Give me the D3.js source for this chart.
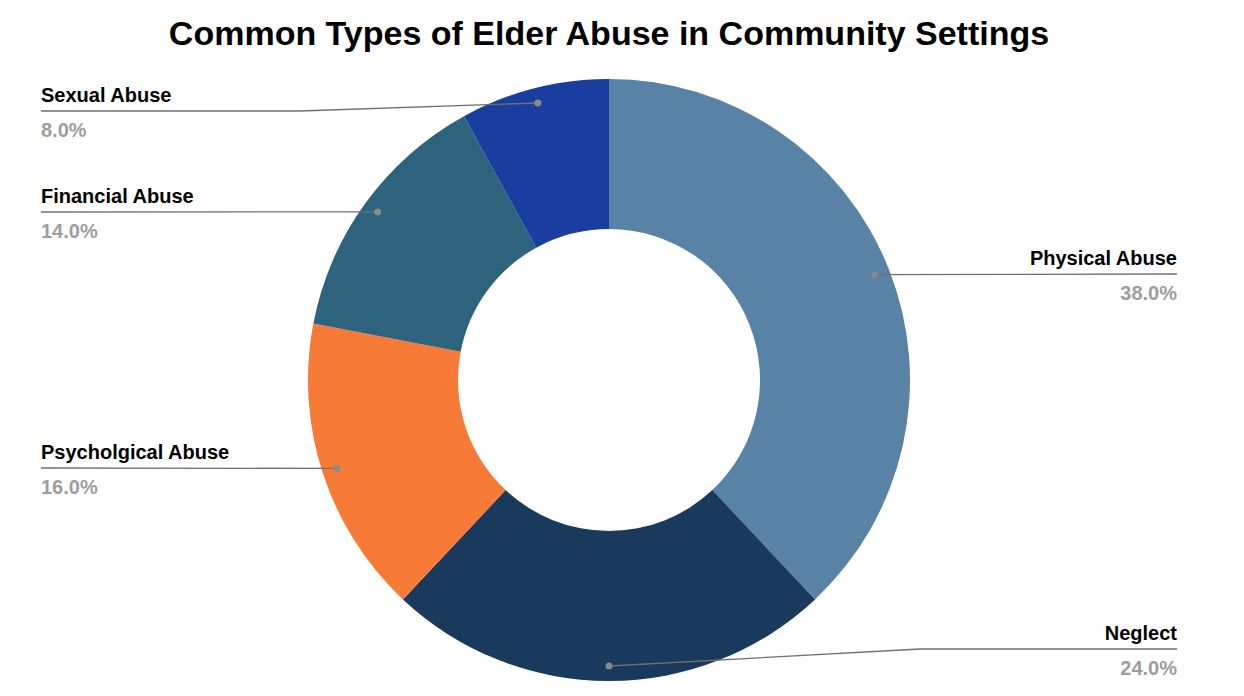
<!DOCTYPE html>
<html>
<head>
<meta charset="utf-8">
<script src="https://cdn.jsdelivr.net/npm/d3@7"></script>
<style>
  body { margin: 0; background: #fff; }
  text { font-family: "Liberation Sans", Arial, sans-serif; }
</style>
</head>
<body>
<svg id="drawing_region"></svg>
<script>
const categories = ['Physical Abuse', 'Neglect', 'Psycholgical Abuse', 'Financial Abuse', 'Sexual Abuse'];
const values = [38, 24, 16, 14, 8];
const colors = ['#5882a6', '#193a5c', '#f77a36', '#2e637d', '#1a3ea0'];
// label layout: side and y of the leader line
const labelSide = ['right', 'right', 'left', 'left', 'left'];
const labelLineY = [274, 649, 468, 212, 111];

const width = 1244, height = 696;
const cx = 609, cy = 380, outerR = 301, innerR = 151, dotR = 286;

const svg = d3.select('#drawing_region')
    .attr('width', width)
    .attr('height', height);

svg.append('text')
    .attr('x', 609).attr('y', 45)
    .attr('text-anchor', 'middle')
    .style('font-size', '34px')
    .style('font-weight', 'bold')
    .text('Common Types of Elder Abuse in Community Settings');

const data = categories.map((c, i) => ({label: c, value: values[i], color: colors[i], i: i}));
const total = d3.sum(values);

const pie = d3.pie().sort(null).value(d => d.value);
const arc = d3.arc().innerRadius(innerR).outerRadius(outerR);
const arcs = pie(data);

const chart = svg.append('g').attr('transform', `translate(${cx}, ${cy})`);
chart.selectAll('path').data(arcs)
    .join('path')
    .attr('d', arc)
    .attr('fill', d => d.data.color);

const labels = svg.append('g');
arcs.forEach(a => {
    const mid = (a.startAngle + a.endAngle) / 2;
    const dx = cx + Math.sin(mid) * dotR;
    const dy = cy - Math.cos(mid) * dotR;
    const ly = labelLineY[a.data.i];
    const right = labelSide[a.data.i] === 'right';
    const endX = right ? 1177 : 41;
    const elbowX = right ? Math.max(dx + 40, dx + Math.abs(ly - dy) * 18) : Math.min(dx - 40, 300);
    const pts = Math.abs(ly - dy) < 3
        ? [[dx, dy], [endX, ly]]
        : [[dx, dy], [Math.min(elbowX, 920), ly], [endX, ly]];
    if (right && pts.length === 3) pts[1][0] = 920;
    labels.append('path')
        .attr('d', d3.line()(pts))
        .attr('fill', 'none')
        .attr('stroke', '#707070')
        .attr('stroke-width', 1.3);
    labels.append('circle')
        .attr('cx', dx).attr('cy', dy).attr('r', 3.5)
        .attr('fill', '#8a8a8a');
    labels.append('text')
        .attr('x', endX).attr('y', ly - 9)
        .attr('text-anchor', right ? 'end' : 'start')
        .style('font-size', '20px')
        .style('font-weight', 'bold')
        .attr('fill', '#000')
        .text(a.data.label);
    labels.append('text')
        .attr('x', endX).attr('y', ly + 26)
        .attr('text-anchor', right ? 'end' : 'start')
        .style('font-size', '20px')
        .style('font-weight', 'bold')
        .attr('fill', '#9e9e9e')
        .text((a.data.value / total * 100).toFixed(1) + '%');
});
</script>
</body>
</html>
